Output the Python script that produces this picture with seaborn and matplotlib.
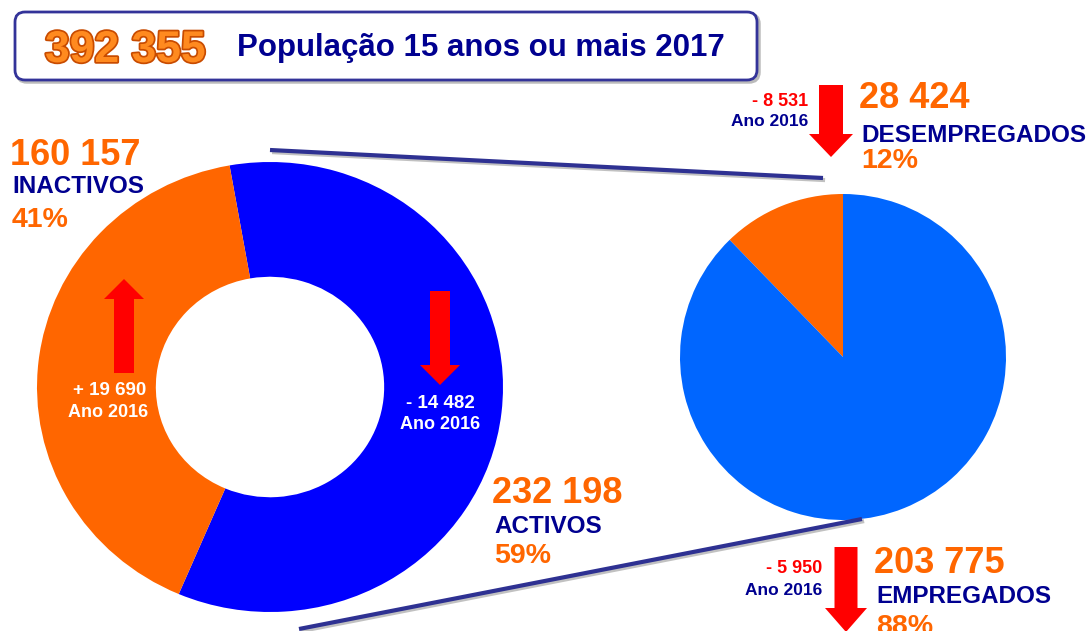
import matplotlib
matplotlib.use("Agg")
import matplotlib.pyplot as plt
import matplotlib.patheffects as pe
from matplotlib.patches import FancyBboxPatch, FancyArrow
import seaborn as sns

# ---- data ----
total_pop = 392355
title_text = "População 15 anos ou mais 2017"
status_labels = ["ACTIVOS", "INACTIVOS"]
status_values = [232198, 160157]
status_pct = ["59%", "41%"]
status_change = ["- 14 482", "+ 19 690"]
employ_labels = ["DESEMPREGADOS", "EMPREGADOS"]
employ_values = [28424, 203775]
employ_pct = ["12%", "88%"]
employ_change = ["- 8 531", "- 5 950"]
change_year = "Ano 2016"

sns.set_style("white")
plt.rcParams["font.family"] = ["Liberation Sans", "DejaVu Sans"]
plt.rcParams["font.weight"] = "bold"

ORANGE = "#FF6600"
NAVY = "#000090"
BLUE = "#0000FF"
LBLUE = "#0066FF"
RED = "#FF0000"
LINE = "#2E3192"

W, H = 1089, 631
fig = plt.figure(figsize=(W / 100, H / 100), dpi=100)


def fig_axes(left, top, right, bottom):
    return fig.add_axes([left / W, (H - bottom) / H, (right - left) / W, (bottom - top) / H])


def fmt(v):
    return f"{v:,}".replace(",", " ")


# donut
ax1 = fig_axes(37, 162, 503, 612)
ax1.pie(status_values, colors=[BLUE, ORANGE], startangle=100, counterclock=False,
        wedgeprops=dict(width=0.51, linewidth=0))
ax1.set_aspect("auto")
ax1.set_xlim(-1, 1)
ax1.set_ylim(-1, 1)
ax1.axis("off")

# right pie
ax2 = fig_axes(680, 194, 1006, 520)
ax2.pie(employ_values, colors=[ORANGE, LBLUE], startangle=90, counterclock=True,
        wedgeprops=dict(linewidth=0))
ax2.set_aspect("auto")
ax2.set_xlim(-1, 1)
ax2.set_ylim(-1, 1)
ax2.axis("off")

# overlay in pixel coordinates
ov = fig.add_axes([0, 0, 1, 1])
ov.set_xlim(0, W)
ov.set_ylim(H, 0)
ov.axis("off")
ov.patch.set_alpha(0)

# title box
shadow = FancyBboxPatch((17, 14), 742, 68, boxstyle="round,pad=0,rounding_size=10",
                        fc="none", ec="#BBBBBB", lw=2.5, zorder=1)
ov.add_patch(shadow)
box = FancyBboxPatch((15, 12), 742, 68, boxstyle="round,pad=0,rounding_size=10",
                     fc="white", ec="#333399", lw=2, zorder=2)
ov.add_patch(box)
ov.text(45, 62, fmt(total_pop), color="#FF8A1F", fontsize=32, fontweight="bold",
        va="baseline", ha="left", zorder=3,
        path_effects=[pe.withStroke(linewidth=2.5, foreground="#C84B00")])
ov.text(237, 56, title_text, color=NAVY, fontsize=22.5, fontweight="bold",
        va="baseline", ha="left", zorder=3)

# connecting lines
for (x0, y0, x1, y1) in [(270, 150, 823, 178), (299, 629, 862, 519)]:
    ov.plot([x0, x1], [y0, y1], color=LINE, lw=3, solid_capstyle="butt",
            path_effects=[pe.SimpleLineShadow(offset=(1.5, -1.5), shadow_color="#999999", alpha=0.6),
                          pe.Normal()])


def block_arrow(xc, y_tail, y_tip, shaft_w, head_w, head_len):
    ov.add_patch(FancyArrow(xc, y_tail, 0, y_tip - y_tail, width=shaft_w, head_width=head_w,
                            head_length=head_len, length_includes_head=True,
                            fc=RED, ec=RED, lw=0, zorder=5))


block_arrow(831, 85, 157, 24, 44, 23)
block_arrow(846, 547, 632, 23, 42, 24)
block_arrow(124, 373, 279, 20, 40, 20)
block_arrow(440, 291, 385, 20, 40, 20)


def label_block(x, ys, value, name, pct):
    ov.text(x, ys[0], fmt(value), color=ORANGE, fontsize=26, fontweight="bold", va="baseline", ha="left")
    ov.text(x + 2, ys[1], name, color=NAVY, fontsize=17.5, fontweight="bold", va="baseline", ha="left")
    ov.text(x + 2, ys[2], pct, color=ORANGE, fontsize=20.5, fontweight="bold", va="baseline", ha="left")


label_block(10, (165, 193, 227), status_values[1], status_labels[1], status_pct[1])
label_block(492, (503, 533, 563), status_values[0], status_labels[0], status_pct[0])
label_block(859, (108, 142, 168), employ_values[0], employ_labels[0], employ_pct[0])
label_block(874, (573, 603, 634), employ_values[1], employ_labels[1], employ_pct[1])

# change annotations
ov.text(808, 106, employ_change[0], color=RED, fontsize=13, fontweight="bold", ha="right", va="baseline")
ov.text(808, 126, change_year, color=NAVY, fontsize=12.5, fontweight="bold", ha="right", va="baseline")
ov.text(822, 573, employ_change[1], color=RED, fontsize=13, fontweight="bold", ha="right", va="baseline")
ov.text(822, 595, change_year, color=NAVY, fontsize=12.5, fontweight="bold", ha="right", va="baseline")
ov.text(110, 395, status_change[1], color="white", fontsize=13.5, fontweight="bold", ha="center", va="baseline", zorder=6)
ov.text(108, 417, change_year, color="white", fontsize=13, fontweight="bold", ha="center", va="baseline", zorder=6)
ov.text(440, 408, status_change[0], color="white", fontsize=13.5, fontweight="bold", ha="center", va="baseline", zorder=6)
ov.text(440, 429, change_year, color="white", fontsize=13, fontweight="bold", ha="center", va="baseline", zorder=6)

fig.savefig("out.png", dpi=100)
